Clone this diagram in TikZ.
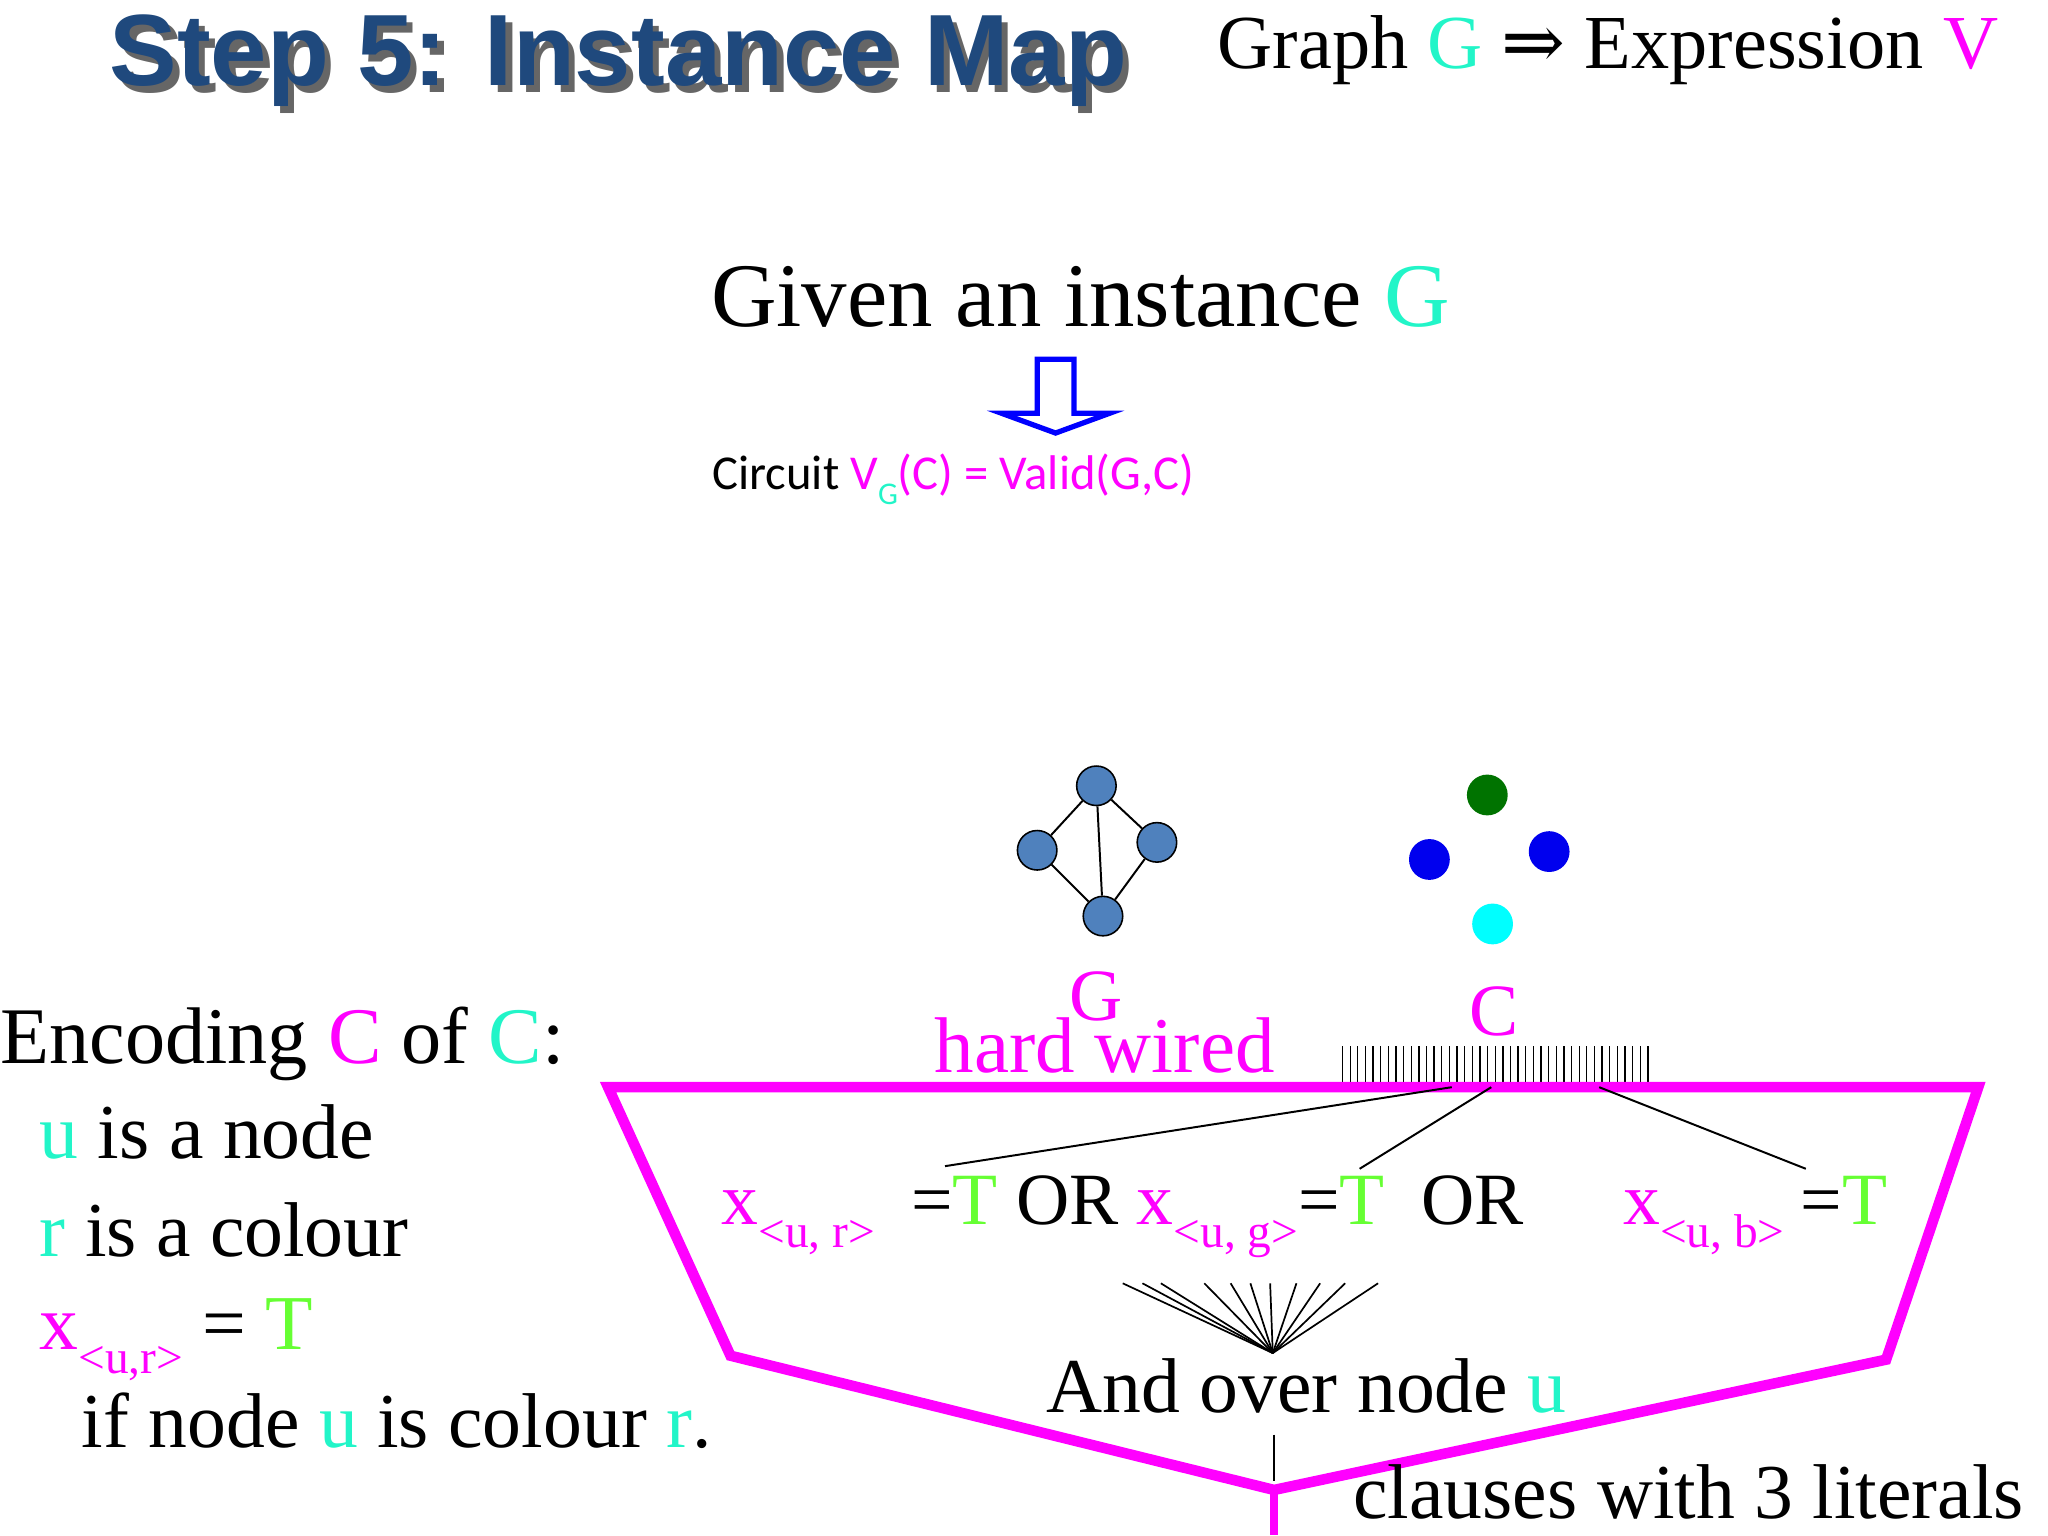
\documentclass[tikz,border=0pt]{standalone}
\usepackage{fontspec}
\setmainfont{Liberation Serif}
\newfontfamily\titlefont{Liberation Sans}
\newfontfamily\calfont{Carlito}
\newfontfamily\symfont{DejaVu Serif}
\definecolor{mag}{HTML}{FF00FF}
\definecolor{aq}{HTML}{22F5C8}
\definecolor{gT}{HTML}{66FF33}
\definecolor{tblue}{HTML}{1F497D}
\definecolor{gnode}{HTML}{4F81BD}
\definecolor{cy}{HTML}{00FFFF}
\definecolor{bl}{HTML}{0000EE}
\newcommand{\fs}[1]{\fontsize{#1}{#1}\selectfont}
\newcommand{\sub}[1]{\raisebox{-0.32em}{\fs{36}#1}}
\begin{document}
\begin{tikzpicture}[x=1pt,y=-1pt,
  txt/.style={anchor=base west,inner sep=0pt,font=\fs{56}},
  big/.style={txt,font=\fs{59}},
  gn/.style={circle,draw=black,fill=gnode,minimum size=30pt,inner sep=0pt,line width=1.2pt},
  dot/.style={circle,minimum size=31pt,inner sep=0pt},
  wire/.style={line width=1.5pt},
  pl/.style={draw=mag,line width=8pt,line join=miter}]
\useasboundingbox (0,0) rectangle (1556,1167);
% title
\node[txt,font=\titlefont\bfseries\fs{77},text=black!60] at (88,70) {Step 5: Instance Map};
\node[txt,font=\titlefont\bfseries\fs{77},text=tblue] (title) at (83,65) {Step 5: Instance Map};
\node[txt,font=\fs{58}] (hdr) at (925,52) {Graph \textcolor{aq}{G} {\symfont ⇒} Expression \textcolor{mag}{V}};
\node[txt,font=\fs{69}] (given) at (540,248) {Given an instance \textcolor{aq}{G}};
% hollow arrow
\draw[blue,line width=4pt,fill=white,line join=miter] (788,273) -- (816,273) -- (816,314) -- (843,314) -- (802,329) -- (761,314) -- (788,314) -- cycle;
\node[txt,font=\calfont\fs{37}] (circ) at (541,372) {Circuit \textcolor{mag}{V\raisebox{-0.3em}{\textcolor{aq}{\fs{24}G}}(C) = Valid(G,C)}};
% graph
\node[gn] (a) at (833,597) {};
\node[gn] (b) at (788,646) {};
\node[gn] (c) at (879,640) {};
\node[gn] (d) at (838,696) {};
\draw[wire] (a)--(b) (a)--(c) (a)--(d) (b)--(d) (c)--(d);
\node[dot,fill=green!45!black] (p1) at (1130,604) {};
\node[dot,fill=bl] (p2) at (1086,653) {};
\node[dot,fill=bl] (p3) at (1177,647) {};
\node[dot,fill=cy] (p4) at (1134,702) {};
\node[txt,anchor=base,text=mag] (Gl) at (833,775) {G};
\node[txt,anchor=base,text=mag] (Cl) at (1135,787) {C};
\node[txt,text=mag,font=\fs{60}] (hw) at (710,815) {hard wired};
% hatch
\foreach \i in {0,...,40} \draw[line width=1pt] (1020+\i*5.8,795) -- (1020+\i*5.8,825);
% polygon
\draw[pl] (462,826) -- (1503,826) -- (1433,1033) -- (968,1132) -- (555,1030) -- cycle;
\draw[draw=mag,line width=6pt] (968,1130) -- (968,1166);
\coordinate (h1) at (1103,826); \coordinate (h2) at (1133,826); \coordinate (h3) at (1215,826);
\coordinate (e1) at (718,886); \coordinate (e2) at (1033,888); \coordinate (e3) at (1372,888);
\draw[wire] (h1)--(e1) (h2)--(e2) (h3)--(e3);
% row
\node[txt,text=mag] (x1) at (548,930) {x\sub{<u, r>}};
\node[txt] (t1) at (692,930) {=\textcolor{gT}{T} OR \textcolor{mag}{x\sub{<u, g>}}=\textcolor{gT}{T}\ \ OR};
\node[txt,text=mag] (x3) at (1233,930) {x\sub{<u, b>}};
\node[txt] (t3) at (1368,930) {=\textcolor{gT}{T}};
% fan
\coordinate (apex) at (967,1028);
\foreach \x in {853,868,882,915,935,950,965,985,1003,1022,1047} \draw[line width=1.3pt] (apex) -- (\x,975);
\node[big] (and) at (795,1073) {And over node \textcolor{aq}{u}};
\coordinate (s1) at (968,1090); \coordinate (s2) at (968,1125);
\draw[line width=1pt] (s1)--(s2);
\node[big] (cl) at (1028,1154) {clauses with 3 literals};
% left
\node[big,font=\fs{61}] (enc) at (0,808) {Encoding \textcolor{mag}{C} of \textcolor{aq}{C}:};
\node[big] (l1) at (30,880) {\textcolor{aq}{u} is a node};
\node[big] (l2) at (30,955) {\textcolor{aq}{r} is a colour};
\node[big] (l3) at (30,1025) {\textcolor{mag}{x\sub{<u,r>}} = \textcolor{gT}{T}};
\node[big] (l4) at (62,1100) {if node \textcolor{aq}{u} is colour \textcolor{aq}{r}.};
\end{tikzpicture}
\end{document}
